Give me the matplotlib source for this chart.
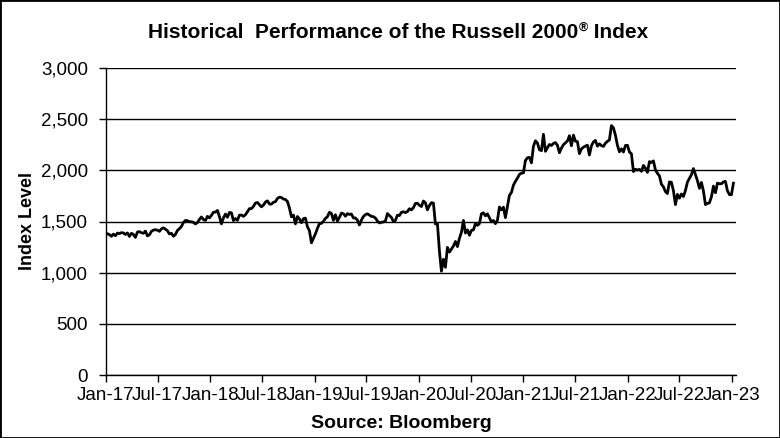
import numpy as np
import pandas as pd
from matplotlib import pyplot as plt
from matplotlib import dates as mdates
from matplotlib.patches import Rectangle

# weekly closes (Fridays)
r2k_2017 = [1380, 1372, 1355, 1377, 1361, 1387, 1382, 1391, 1388, 1373, 1388, 1354, 1385,
            1372, 1345, 1397, 1401, 1390, 1385, 1406, 1360, 1370, 1404, 1416, 1420, 1415,
            1404, 1428, 1438, 1425, 1410, 1378, 1385, 1356, 1373, 1413, 1430, 1451, 1490,
            1510, 1508, 1498, 1497, 1492, 1476, 1490, 1520, 1544, 1520, 1510, 1550, 1535]
r2k_2018 = [1560, 1590, 1592, 1608, 1548, 1477, 1534, 1573, 1541, 1589, 1585, 1509, 1529,
            1511, 1562, 1563, 1550, 1566, 1595, 1626, 1626, 1647, 1680, 1686, 1665, 1643,
            1660, 1690, 1702, 1671, 1670, 1688, 1694, 1725, 1738, 1734, 1720, 1715, 1696,
            1632, 1546, 1563, 1477, 1549, 1525, 1488, 1528, 1533, 1448, 1411, 1292, 1337]
r2k_2019 = [1380, 1432, 1480, 1482, 1502, 1530, 1547, 1590, 1578, 1512, 1566, 1505, 1540,
            1582, 1576, 1552, 1577, 1569, 1573, 1534, 1535, 1513, 1466, 1514, 1549, 1567,
            1575, 1562, 1550, 1547, 1534, 1504, 1486, 1493, 1495, 1505, 1578, 1559, 1539,
            1500, 1511, 1562, 1558, 1589, 1596, 1586, 1598, 1625, 1613, 1636, 1677, 1678]
r2k_2020 = [1658, 1646, 1700, 1682, 1614, 1656, 1684, 1680, 1476, 1479, 1210, 1014, 1131,
            1053, 1247, 1201, 1230, 1260, 1305, 1255, 1336, 1394, 1510, 1387, 1418, 1365,
            1414, 1418, 1480, 1462, 1480, 1575, 1585, 1555, 1575, 1535, 1497, 1510, 1479,
            1512, 1641, 1615, 1640, 1538, 1649, 1755, 1784, 1855, 1892, 1924, 1960, 1972]
r2k_2021 = [1975, 2096, 2123, 2127, 2073, 2234, 2289, 2266, 2201, 2192, 2352, 2186, 2221,
            2253, 2243, 2263, 2271, 2245, 2172, 2218, 2250, 2268, 2287, 2338, 2240, 2344,
            2285, 2280, 2163, 2209, 2226, 2237, 2246, 2150, 2240, 2277, 2292, 2236, 2259,
            2241, 2234, 2265, 2283, 2297, 2437, 2415, 2343, 2245, 2181, 2210, 2179, 2243, 2245]
r2k_2022 = [2179, 2162, 1988, 2010, 2003, 2009, 1990, 2048, 2021, 1980, 2085, 2078, 2092,
            2004, 1971, 1946, 1864, 1839, 1792, 1773, 1887, 1883, 1800, 1665, 1765, 1728,
            1769, 1744, 1803, 1885, 1921, 1957, 2017, 1960, 1900, 1824, 1882, 1798, 1665,
            1677, 1682, 1742, 1846, 1781, 1875, 1869, 1869, 1887, 1892, 1800, 1763, 1761]
r2k_2023 = [1875]

values = r2k_2017 + r2k_2018 + r2k_2019 + r2k_2020 + r2k_2021 + r2k_2022 + r2k_2023
dates = pd.date_range('2017-01-06', periods=len(values), freq='W-FRI')

y_ticks = [0, 500, 1000, 1500, 2000, 2500, 3000]
x_ticks = pd.date_range('2017-01-01', '2023-01-01', freq='6MS')

plt.rcParams['font.family'] = ['Liberation Sans', 'DejaVu Sans']

fig = plt.figure(figsize=(7.8, 4.38), dpi=100)
ax = fig.add_axes([106 / 780, 1 - 375 / 438, 630 / 780, 307 / 438])

ax.plot(dates, values, color='black', lw=2)

ax.set_ylim(0, 3000)
ax.set_yticks(y_ticks)
ax.set_yticklabels(['{:,}'.format(v) for v in y_ticks])
ax.set_xlim(pd.Timestamp('2017-01-01'), pd.Timestamp('2023-01-15'))
ax.set_xticks(x_ticks)
ax.xaxis.set_major_formatter(mdates.DateFormatter('%b-%y'))
ax.grid(axis='y', color='black', lw=1)
ax.set_axisbelow(True)

for s in ['top', 'right']:
    ax.spines[s].set_visible(False)
for s in ['left', 'bottom']:
    ax.spines[s].set_linewidth(1)
ax.tick_params(axis='both', direction='out', length=5, width=1, labelsize=13.5, colors='black')
ax.tick_params(axis='y', pad=8)
ax.tick_params(axis='x', pad=4)

# title, with a small raised (R) mark after 2000
t1 = fig.text(148 / 780, 1 - 33 / 438, 'Historical  Performance of the Russell 2000',
              ha='left', va='center', fontsize=15, fontweight='bold')
t2 = fig.text(0, 0, '®', fontsize=9, fontweight='bold', ha='left', va='top')
t3 = fig.text(0, 0, ' Index', fontsize=15, fontweight='bold', ha='left', va='center')
fig.canvas.draw()
bb = t1.get_window_extent().transformed(fig.transFigure.inverted())
t2.set_position((bb.x1 + 0.001, bb.y1 + 0.003))
t2_bb = t2.get_window_extent().transformed(fig.transFigure.inverted())
t3.set_position((t2_bb.x1, 1 - 33 / 438))

fig.text(28 / 780, 1 - 221 / 438, 'Index Level', rotation=90, ha='center', va='center',
         fontsize=13, fontweight='bold')
fig.text(401 / 780, 1 - 424 / 438, 'Source: Bloomberg', ha='center', va='center',
         fontsize=14, fontweight='bold')

fig.patches.append(Rectangle((0, 0), 1, 1, transform=fig.transFigure, fill=False,
                             edgecolor='black', lw=2))

plt.savefig('out.png', dpi=100)
